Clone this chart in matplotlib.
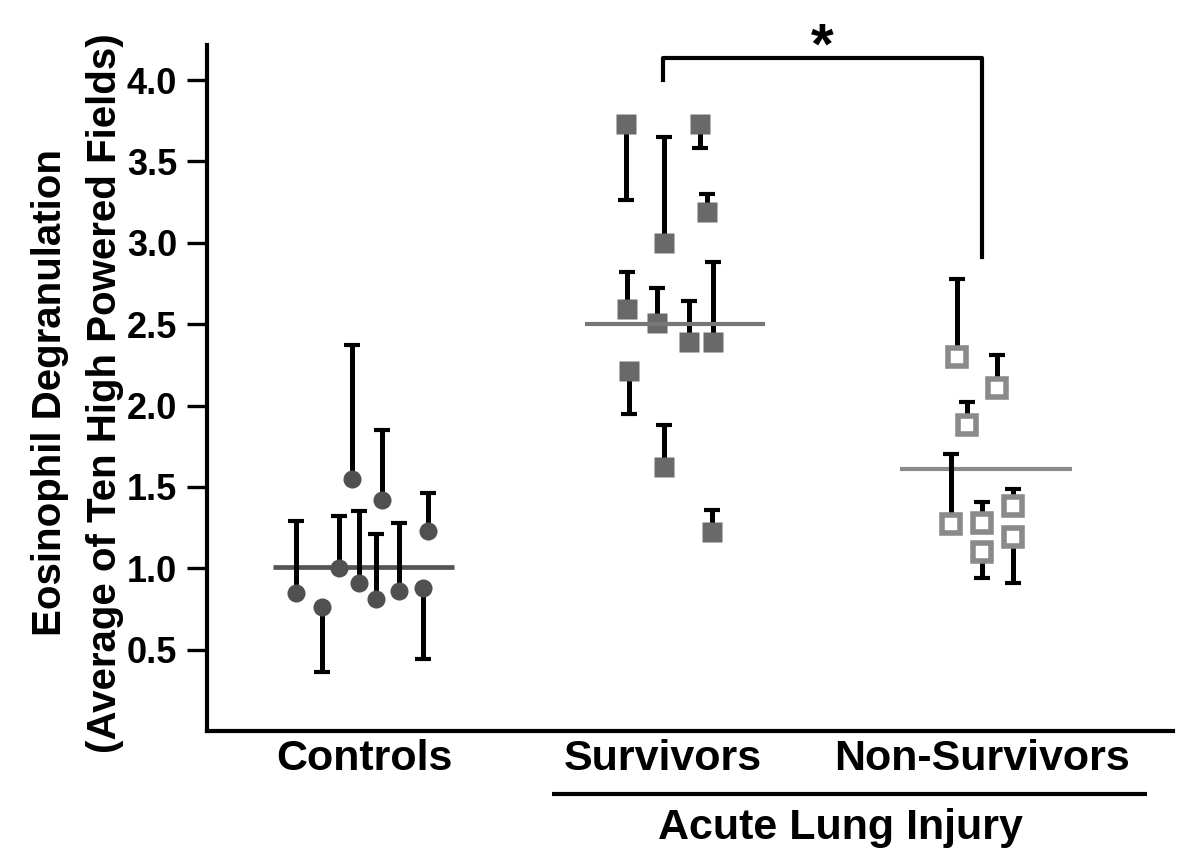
import matplotlib
matplotlib.use("Agg")
import matplotlib.pyplot as plt
import numpy as np

plt.rcParams['font.family'] = ['Liberation Sans', 'DejaVu Sans']
plt.rcParams['font.weight'] = 'bold'

# group labels and centres on the x axis
groups = ["Controls", "Survivors", "Non-Survivors"]
centers = [1.0, 2.0, 3.067]

# controls: value, end of the one-sided error bar, jitter
ctrl_vals = [0.85, 0.76, 1.00, 1.55, 0.91, 0.81, 1.42, 0.86, 0.88, 1.23]
ctrl_ends = [1.29, 0.36, 1.32, 2.37, 1.35, 1.21, 1.85, 1.28, 0.44, 1.46]
ctrl_jit = [-0.228, -0.141, -0.084, -0.041, -0.016, 0.040, 0.059, 0.118, 0.196, 0.215]
ctrl_mean = 1.01

# ALI survivors
surv_vals = [3.73, 2.59, 2.21, 2.51, 3.00, 1.62, 2.39, 3.73, 3.19, 1.22, 2.39]
surv_ends = [3.26, 2.82, 1.95, 2.72, 3.65, 1.88, 2.64, 3.58, 3.30, 1.36, 2.88]
surv_jit = [-0.125, -0.120, -0.114, -0.019, 0.003, 0.003, 0.087, 0.124, 0.148, 0.165, 0.168]
surv_mean = 2.50

# ALI non-survivors
non_vals = [1.27, 2.30, 1.88, 1.28, 1.10, 2.11, 1.38, 1.19]
non_ends = [1.70, 2.78, 2.02, 1.41, 0.94, 2.31, 1.49, 0.91]
non_jit = [-0.104, -0.084, -0.051, 0.000, 0.000, 0.050, 0.104, 0.104]
non_mean = 1.61

yticks = [0.5, 1.0, 1.5, 2.0, 2.5, 3.0, 3.5, 4.0]


def split_err(vals, ends):
    vals = np.array(vals)
    ends = np.array(ends)
    lo = np.clip(vals - ends, 0, None)
    hi = np.clip(ends - vals, 0, None)
    return np.vstack([lo, hi])


fig = plt.figure(figsize=(12, 8.59), dpi=100)
ax = fig.add_axes([0.1725, 0.149, 0.805, 0.7986])

eb = dict(fmt='none', ecolor='black', elinewidth=3.6, capsize=6, capthick=3.0, zorder=2)

# controls
cx = centers[0] + np.array(ctrl_jit)
ax.plot([centers[0] - 0.305, centers[0] + 0.30], [ctrl_mean, ctrl_mean],
        color='#555555', lw=3.4, zorder=1, solid_capstyle='butt')
ax.errorbar(cx, ctrl_vals, yerr=split_err(ctrl_vals, ctrl_ends), **eb)
ax.plot(cx, ctrl_vals, 'o', ms=13, color='#505050', mec='none', zorder=3)

# survivors
sx = centers[1] + np.array(surv_jit)
ax.errorbar(sx, surv_vals, yerr=split_err(surv_vals, surv_ends), **eb)
ax.plot(sx, surv_vals, 's', ms=14.4, color='#696969', mec='none', zorder=3)
ax.plot([centers[1] - 0.26, centers[1] + 0.34], [surv_mean, surv_mean],
        color='#777777', lw=3.0, zorder=4, solid_capstyle='butt')

# non-survivors
nx = centers[2] + np.array(non_jit)
ax.plot([centers[2] - 0.275, centers[2] + 0.30], [non_mean, non_mean],
        color='#8a8a8a', lw=3.0, zorder=1, solid_capstyle='butt')
ax.errorbar(nx, non_vals, yerr=split_err(non_vals, non_ends), **eb)
ax.plot(nx, non_vals, 's', ms=13.3, mfc='white', mec='#8a8a8a', mew=4.0, zorder=3)

# significance bracket
ax.plot([centers[1], centers[1], centers[2], centers[2]], [4.0, 4.137, 4.137, 2.91],
        color='black', lw=3.0, clip_on=False, zorder=5)
ax.text(2.532, 4.10, '*', ha='center', va='baseline', fontsize=42, fontweight='bold',
        clip_on=False)

ax.set_xlim(0.475, 3.706)
ax.set_ylim(0, 4.215)
ax.set_yticks(yticks)
ax.set_yticklabels(['%.1f' % t for t in yticks])
ax.set_xticks(centers)
ax.set_xticklabels(groups)

for s in ['top', 'right']:
    ax.spines[s].set_visible(False)
for s in ['left', 'bottom']:
    ax.spines[s].set_linewidth(3.0)

ax.tick_params(axis='y', length=14.4, width=2.4, pad=7, labelsize=26)
ax.tick_params(axis='x', length=0, pad=6, labelsize=31)
for lab in ax.get_xticklabels() + ax.get_yticklabels():
    lab.set_fontweight('bold')

# acute lung injury bracket under the two ALI groups
ax.plot([1.629, 3.619], [-0.384, -0.384], color='black', lw=3.0, clip_on=False,
        solid_capstyle='butt')
ax.text(2.592, -0.595, 'Acute Lung Injury', ha='center', va='center',
        fontsize=31, fontweight='bold', clip_on=False)

# two-line y label
fig.text(0.042, 0.5425, 'Eosinophil Degranulation', rotation=90, ha='center',
         va='center', fontsize=29, fontweight='bold')
fig.text(0.0875, 0.5425, '(Average of Ten High Powered Fields)', rotation=90,
         ha='center', va='center', fontsize=29, fontweight='bold')

fig.savefig('out.png', dpi=100)
